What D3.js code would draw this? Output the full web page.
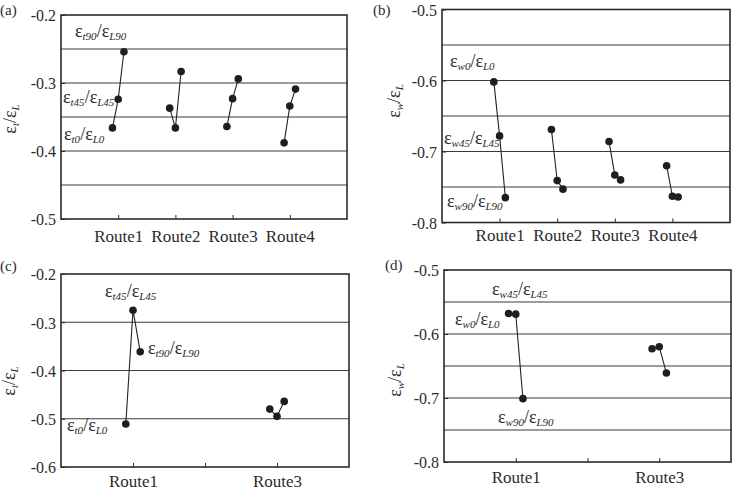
<!DOCTYPE html>
<html>
<head>
<meta charset="utf-8">
<script src="https://cdn.jsdelivr.net/npm/d3@7"></script>
<style>
  html, body { margin: 0; padding: 0; background: #fff; }
  svg { display: block; }
  svg text { font-family: "Liberation Serif", "Times New Roman", serif; }
</style>
</head>
<body>
<svg id="chart" width="736" height="492"></svg>
<script>
// ---------------- data ----------------
const routes4 = ["Route1", "Route2", "Route3", "Route4"];
const routes2 = ["Route1", "", "Route3"];
const angles = ["0", "45", "90"];

// panel (a): eps_t / eps_L
const a0  = [-0.366, -0.337, -0.364, -0.388];
const a45 = [-0.324, -0.366, -0.323, -0.334];
const a90 = [-0.254, -0.283, -0.294, -0.309];
// panel (b): eps_w / eps_L
const b0  = [-0.602, -0.669, -0.686, -0.720];
const b45 = [-0.678, -0.741, -0.733, -0.763];
const b90 = [-0.765, -0.753, -0.740, -0.764];
// panel (c): eps_t / eps_L (Route1, Route3)
const c0  = [-0.511, -0.480];
const c45 = [-0.275, -0.495];
const c90 = [-0.361, -0.464];
// panel (d): eps_w / eps_L (Route1, Route3)
const d0  = [-0.568, -0.623];
const d45 = [-0.569, -0.620];
const d90 = [-0.701, -0.661];

const ticksA = [-0.2, -0.3, -0.4, -0.5];
const ticksB = [-0.5, -0.6, -0.7, -0.8];
const ticksC = [-0.2, -0.3, -0.4, -0.5, -0.6];
const ticksD = [-0.5, -0.6, -0.7, -0.8];
const gridA = [-0.25, -0.3, -0.35, -0.4, -0.45];
const gridB = [-0.55, -0.6, -0.65, -0.7, -0.75];
const gridC = [-0.3, -0.4, -0.5];
const gridD = [-0.55, -0.6, -0.65, -0.7, -0.75];

// ---------------- layout ----------------
const INK = "#2b2b2b";
const FONT = "Liberation Serif, Times New Roman, serif";
const svg = d3.select("#chart");

const panels = [
  { letter: "(a)", letterPos: [0, 15], left: 61, top: 15, w: 286, h: 204,
    slots: 5, tickSlots: [1, 2, 3, 4], labels: routes4, routeSlots: [1, 2, 3, 4],
    yDomain: [-0.2, -0.5], yTicks: ticksA, grid: gridA, series: [a0, a45, a90],
    ySym: "t", yTitlePos: [16, 119], routeBase: 23,
    notes: [ { x: 75, y: 37, s1: "t90", s2: "L90" },
             { x: 63, y: 103, s1: "t45", s2: "L45" },
             { x: 64, y: 140, s1: "t0", s2: "L0" } ] },
  { letter: "(b)", letterPos: [373, 15], left: 442, top: 9.5, w: 288, h: 213,
    slots: 5, tickSlots: [1, 2, 3, 4], labels: routes4, routeSlots: [1, 2, 3, 4],
    yDomain: [-0.5, -0.8], yTicks: ticksB, grid: gridB, series: [b0, b45, b90],
    ySym: "w", yTitlePos: [400, 101], routeBase: 18,
    notes: [ { x: 450, y: 67, s1: "w0", s2: "L0" },
             { x: 444, y: 144, s1: "w45", s2: "L45" },
             { x: 447, y: 207, s1: "w90", s2: "L90" } ] },
  { letter: "(c)", letterPos: [0, 271], left: 61, top: 274, w: 288, h: 193,
    slots: 4, tickSlots: [1, 2, 3], labels: routes2, routeSlots: [1, 3],
    yDomain: [-0.2, -0.6], yTicks: ticksC, grid: gridC, series: [c0, c45, c90],
    ySym: "t", yTitlePos: [15, 381], routeBase: 20,
    notes: [ { x: 105, y: 297, s1: "t45", s2: "L45" },
             { x: 148, y: 354, s1: "t90", s2: "L90" },
             { x: 67, y: 431, s1: "t0", s2: "L0" } ] },
  { letter: "(d)", letterPos: [385, 270], left: 444, top: 270, w: 287, h: 192,
    slots: 4, tickSlots: [1, 2, 3], labels: routes2, routeSlots: [1, 3],
    yDomain: [-0.5, -0.8], yTicks: ticksD, grid: gridD, series: [d0, d45, d90],
    ySym: "w", yTitlePos: [401, 380], routeBase: 21,
    notes: [ { x: 492, y: 295, s1: "w45", s2: "L45" },
             { x: 455, y: 325, s1: "w0", s2: "L0" },
             { x: 498, y: 423, s1: "w90", s2: "L90" } ] }
];

const offsets = [-0.1, 0, 0.1];

function epsRatio(textSel, s1, s2, big, small, shift) {
  textSel.append("tspan").attr("font-size", big).text("ε");
  textSel.append("tspan").attr("font-size", small).attr("font-style", "italic")
    .attr("dy", shift).text(s1);
  textSel.append("tspan").attr("font-size", big).attr("dy", -shift).text("/");
  textSel.append("tspan").attr("font-size", big).text("ε");
  textSel.append("tspan").attr("font-size", small).attr("font-style", "italic")
    .attr("dy", shift).text(s2);
}

panels.forEach(p => {
  svg.append("text").attr("x", p.letterPos[0]).attr("y", p.letterPos[1])
    .attr("font-size", 15).attr("fill", INK).attr("font-family", FONT).text(p.letter);

  const g = svg.append("g").attr("transform", `translate(${p.left},${p.top})`);
  const x = d3.scaleLinear().domain([0, p.slots]).range([0, p.w]);
  const y = d3.scaleLinear().domain(p.yDomain).range([0, p.h]);

  g.selectAll("line.grid").data(p.grid).join("line")
    .attr("class", "grid")
    .attr("x1", 0).attr("x2", p.w)
    .attr("y1", d => y(d)).attr("y2", d => y(d))
    .attr("stroke", "#3a3a3a").attr("stroke-width", 1.2);

  const yAxis = d3.axisLeft(y).tickValues(p.yTicks)
    .tickFormat(d => d.toFixed(1)).tickSizeInner(-4).tickSizeOuter(0).tickPadding(5);
  const ya = g.append("g").call(yAxis).attr("font-family", FONT);
  ya.select(".domain").remove();
  ya.selectAll("line").attr("stroke", INK);
  ya.selectAll("text").attr("font-size", 16).attr("fill", INK)
    .attr("font-family", FONT).attr("dy", "0.36em");

  const labelMap = new Map(p.routeSlots.map(s => [s, p.labels[p.tickSlots.indexOf(s)]]));
  const xAxis = d3.axisBottom(x).tickValues(p.tickSlots)
    .tickFormat(d => labelMap.get(d) || "").tickSizeInner(-4).tickSizeOuter(0).tickPadding(p.routeBase - 12);
  const xa = g.append("g").attr("transform", `translate(0,${p.h})`).call(xAxis).attr("font-family", FONT);
  xa.select(".domain").remove();
  xa.selectAll("line").attr("stroke", INK);
  xa.selectAll("text").attr("font-size", 17).attr("fill", INK).attr("font-family", FONT);

  g.append("rect").attr("x", 0).attr("y", 0).attr("width", p.w).attr("height", p.h)
    .attr("fill", "none").attr("stroke", INK).attr("stroke-width", 1.6);

  const line = d3.line().x(d => x(d.x)).y(d => y(d.v));
  p.routeSlots.forEach((slot, ri) => {
    const pts = p.series.map((arr, ai) => ({ x: slot + offsets[ai], v: arr[ri] }));
    g.append("path").attr("d", line(pts)).attr("fill", "none")
      .attr("stroke", "#222").attr("stroke-width", 1.1);
    g.selectAll(null).data(pts).join("circle")
      .attr("cx", d => x(d.x)).attr("cy", d => y(d.v)).attr("r", 3.8)
      .attr("fill", "#1e1e1e");
  });

  p.notes.forEach(n => {
    const t = svg.append("text").attr("x", n.x).attr("y", n.y).attr("fill", INK)
      .attr("font-family", FONT);
    epsRatio(t, n.s1, n.s2, 18, 11, 3);
  });

  const yt = svg.append("text")
    .attr("transform", `translate(${p.yTitlePos[0]},${p.yTitlePos[1]}) rotate(-90)`)
    .attr("text-anchor", "middle").attr("fill", INK).attr("font-family", FONT);
  epsRatio(yt, p.ySym, "L", 18, 11, 3);
});
</script>
</body>
</html>
